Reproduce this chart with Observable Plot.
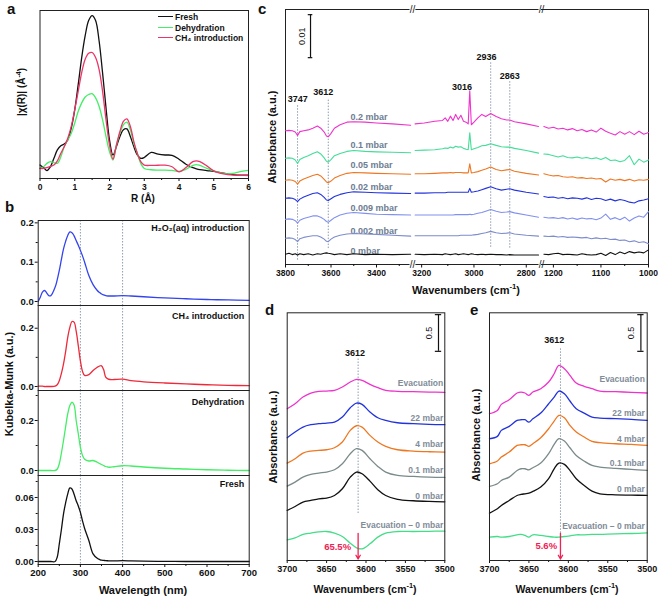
<!DOCTYPE html>
<html><head><meta charset="utf-8">
<script src="https://cdn.jsdelivr.net/npm/d3@7"></script>
<script src="https://cdn.jsdelivr.net/npm/@observablehq/plot@0.6"></script>
<style>
html,body{margin:0;padding:0;background:#fff;}
#fig{position:relative;width:661px;height:599px;overflow:hidden;background:#fff;font-family:"Liberation Sans",Arial,sans-serif;font-weight:bold;color:#111;}
#fig svg{position:absolute;overflow:visible;}
.lab{position:absolute;white-space:nowrap;line-height:1;transform:translate(-50%,-50%);}
.lab.rot{transform:translate(-50%,-50%) rotate(-90deg);}
.letter{position:absolute;line-height:1;font-size:15px;}
.leg{position:absolute;white-space:nowrap;line-height:1;font-size:8.5px;transform:translateY(-50%);}
.legline{position:absolute;height:0;border-top:1.8px solid;}
sup{font-size:70%;vertical-align:super;line-height:0;}
</style></head>
<body><div id="fig"></div>
<script>
// ================= DATA =================
// Panel a: EXAFS |chi(R)|
const aR = [0,0.1,0.2,0.3,0.4,0.5,0.6,0.7,0.8,0.9,1.0,1.1,1.2,1.3,1.4,1.5,1.6,1.7,1.8,1.9,2.0,2.1,2.2,2.3,2.4,2.5,2.6,2.7,2.8,2.9,3.0,3.2,3.4,3.6,3.8,4.0,4.2,4.4,4.5,4.6,4.8,5.0,5.2,5.4,5.6,5.8,6.0];
const aFresh = [0.08,0.065,0.047,0.07,0.12,0.17,0.195,0.205,0.23,0.3,0.41,0.56,0.72,0.85,0.94,0.97,0.94,0.82,0.63,0.42,0.23,0.14,0.19,0.25,0.29,0.295,0.25,0.19,0.14,0.12,0.125,0.155,0.145,0.14,0.138,0.115,0.085,0.065,0.058,0.053,0.047,0.042,0.035,0.027,0.022,0.02,0.02];
const aDehyd = [0.06,0.07,0.09,0.1,0.095,0.09,0.13,0.19,0.23,0.27,0.33,0.4,0.45,0.485,0.5,0.505,0.48,0.43,0.35,0.25,0.16,0.11,0.2,0.27,0.32,0.335,0.29,0.21,0.15,0.09,0.06,0.052,0.05,0.05,0.048,0.042,0.055,0.078,0.083,0.078,0.06,0.045,0.033,0.028,0.032,0.042,0.048];
const aCH4 = [0.06,0.06,0.065,0.072,0.08,0.105,0.15,0.19,0.24,0.31,0.41,0.52,0.63,0.71,0.745,0.75,0.72,0.65,0.52,0.35,0.2,0.115,0.2,0.28,0.34,0.355,0.31,0.22,0.15,0.1,0.08,0.078,0.079,0.079,0.07,0.04,0.065,0.1,0.105,0.1,0.075,0.045,0.03,0.023,0.02,0.019,0.018];
const aNames = ["Fresh","Dehydration","CH₄ introduction"];
const aColors = ["#111111","#44ee66","#ee3366"];
const aXTicks = [0,1,2,3,4,5,6];
const aXMinor = [0.5,1.5,2.5,3.5,4.5,5.5];

// Panel b: UV-vis Kubelka-Munk
const bWL = [200,205,210,215,220,225,230,240,245,250,255,260,265,270,275,280,285,290,295,300,305,310,320,330,340,345,350,355,360,365,370,380,400,420,450,500,550,600,650,700];
const bH2O2 = [0,0.011,0.024,0.028,0.022,0.015,0.015,0.036,0.055,0.079,0.107,0.134,0.153,0.168,0.177,0.175,0.167,0.155,0.143,0.13,0.116,0.1,0.066,0.043,0.028,0.023,0.019,0.017,0.015,0.014,0.014,0.014,0.015,0.014,0.012,0.009,0.007,0.005,0.004,0.003];
const bCH4 = [0.001,0.001,0.001,0,0,0,0,0.001,0.006,0.02,0.045,0.078,0.12,0.169,0.203,0.223,0.221,0.19,0.14,0.088,0.052,0.038,0.041,0.055,0.066,0.07,0.071,0.058,0.032,0.026,0.024,0.024,0.025,0.02,0.016,0.012,0.009,0.006,0.004,0.003];
const bDehyd = [0,0,0,0,0,0,0,0,0.005,0.027,0.07,0.12,0.175,0.227,0.26,0.273,0.262,0.2,0.147,0.093,0.06,0.045,0.038,0.04,0.033,0.028,0.024,0.02,0.016,0.014,0.013,0.015,0.019,0.018,0.014,0.009,0.006,0.003,0.001,0];
const bFresh = [0,0,0,0,0,0,0,0,0.004,0.0166,0.03,0.0447,0.055,0.0634,0.069,0.068,0.063,0.057,0.052,0.046,0.038,0.031,0.0197,0.0072,0.003,0.002,0.0012,0.001,0.0008,0.0007,0.0006,0.0006,0.0008,0.0006,0.0003,0.0001,0,0,0,0];
const bLabels = ["H₂O₂(aq) introduction","CH₄ introduction","Dehydration","Fresh"];
const bColors = ["#3344ee","#ee2a3a","#44ee66","#111111"];
const bYTicks = [[0,0.1,0.2],[0,0.2],[0,0.2],[0,0.03,0.06]];
const bYMinor = [[0.05,0.15],[0.1],[0.1,0.3],[0.015,0.045,0.075]];
const bYFmt = [".1f",".1f",".1f",".2f"];
const bGuides = [300,400];
const bXTicks = [200,300,400,500,600,700];
const bXMinor = [250,350,450,550,650];

// Panel c: IR difference spectra (mAbs), broken axis
const cNames = ["0 mbar","0.002 mbar","0.009 mbar","0.02 mbar","0.05 mbar","0.1 mbar","0.2 mbar"];
const cColors = ["#111111","#7d8ccc","#8090ee","#2233dd","#ee7722","#44dd99","#ee33cc"];
const cOffsets = [2.4,6.1,10.5,15.4,19.6,24.7,31.1];
const cGrid1 = [3800,3785,3770,3757,3747,3737,3720,3700,3680,3660,3645,3630,3620,3612,3600,3585,3560,3530,3500,3450,3400,3330,3250];
const cGrid2 = [3225,3190,3150,3120,3110,3100,3090,3080,3070,3060,3050,3040,3030,3022,3016,3010,3000,2985,2970,2955,2936,2915,2895,2875,2863,2845,2800,2753];
const cGrid3 = [1220,1210,1200,1190,1180,1170,1160,1150,1140,1130,1120,1110,1100,1090,1080,1070,1060,1050,1040,1030,1020,1010,1000];
const cDev1 = [
  [0,0.2,-0.1,0.1,-0.2,0.1,-0.1,0.1,-0.2,0.1,0,0.2,0.3,0.2,0.1,-0.1,0.1,-0.1,0.1,-0.1,0,-0.1,0],
  [0,0.1,0,-0.3,-0.8,-0.1,0.2,0.4,0.6,0.6,0.3,-0.2,-0.7,-0.8,-0.2,0.3,0.7,1.0,1.1,1.0,0.9,0.7,0.5],
  [0,0.1,0,-0.3,-0.9,-0.2,0.2,0.5,0.8,0.8,0.5,0,-0.5,-0.7,-0.2,0.4,1.0,1.4,1.6,1.4,1.2,1.1,1.0],
  [0,0.1,0,-0.3,-0.8,-0.2,0.3,0.7,1.1,1.3,0.9,0.2,-0.4,-0.5,-0.1,0.4,0.9,1.3,1.5,1.4,1.3,1.2,1.1],
  [0,0.1,0,-0.3,-0.9,-0.2,0.3,0.7,1.1,1.4,1.0,0.2,-0.4,-0.6,-0.2,0.5,1.1,1.6,1.8,1.7,1.6,1.5,1.4],
  [0,0.1,0,-0.4,-1.2,-0.3,0.2,0.6,1.1,1.5,1.0,0.1,-0.7,-0.9,-0.3,0.6,1.1,1.6,1.8,1.6,1.5,1.4,1.3],
  [0,0.1,0,-0.3,-1.1,-0.2,0,0.2,0.6,1.1,0.6,-0.3,-1.2,-1.4,-0.6,0.6,1.4,2.0,2.1,2.0,1.8,1.6,1.3]
];
const cDev2 = [
  [0,-0.1,0,-0.1,0.1,0,-0.1,0,0.1,-0.1,0,0.1,0,-0.1,0,0.1,0,-0.1,0,-0.1,0,-0.1,-0.1,-0.2,-0.1,-0.2,-0.2,-0.2],
  [0.6,0.6,0.6,0.6,0.6,0.6,0.6,0.6,0.6,0.6,0.7,0.7,0.7,0.7,0.7,0.7,0.8,0.9,1.1,1.3,1.6,1.3,1.1,1.2,1.3,1.0,0.7,0.5],
  [1.0,1.0,1.0,1.0,1.0,1.0,1.0,1.0,1.1,1.1,1.1,1.1,1.1,1.1,1.2,1.1,1.2,1.4,1.6,1.9,2.3,1.9,1.6,1.7,1.8,1.5,1.0,0.5],
  [1.2,1.2,1.3,1.3,1.3,1.4,1.4,1.4,1.4,1.4,1.4,1.4,1.4,1.4,2.3,1.4,1.5,1.7,2.0,2.3,2.7,2.2,1.9,2.1,2.2,1.9,1.4,1.0],
  [1.5,1.5,1.6,1.7,1.7,1.7,1.8,1.7,1.8,1.8,1.8,1.7,1.7,1.7,3.8,1.7,1.8,2.0,2.3,2.6,3.1,2.5,2.2,2.4,2.5,2.1,1.6,1.2],
  [1.8,1.9,2.0,2.2,2.4,2.3,2.6,2.4,2.8,2.6,2.7,2.3,2.1,2.0,5.9,2.0,2.2,2.5,2.9,3.0,3.4,3.0,2.7,2.6,2.6,2.3,1.8,1.2],
  [1.6,1.8,2.2,2.4,3.0,2.2,3.4,2.4,3.8,2.6,3.6,2.2,2.0,1.6,9.3,1.4,2.0,3.0,3.8,3.3,4.0,3.3,2.8,2.5,2.5,2.1,1.6,1.0]
];
const cDev3 = [
  [0,-0.1,0.1,0.2,-0.1,0,-0.1,-0.2,0.1,-0.1,-0.2,-0.1,0.2,-0.3,0.4,-0.1,0.5,0.1,0.6,0.3,0.5,0.3,1.0],
  [0.5,0.4,0.5,0.3,0.4,0.2,0.3,0.2,0.1,0.2,-0.1,0.1,-0.1,0,-0.3,-0.2,-0.5,-0.4,-0.8,-0.6,-1.0,-0.8,-1.3],
  [0.5,0.3,0.4,0.2,0.4,0.1,0.3,0,0.3,0.1,0.2,-0.1,0.3,1.2,0,0.4,-0.1,0.5,-0.4,0.3,0.8,0.5,1.8],
  [0.4,0.2,0.3,0,0.2,-0.1,0.1,0,-0.2,0.1,-0.3,0,-0.1,-0.5,-0.2,-0.6,-0.3,-0.5,-0.9,-1.1,-0.6,-0.4,-0.1],
  [1.5,1.2,1.0,1.1,0.8,0.7,0.8,0.5,0.6,0.4,0.5,0.3,0.4,-0.4,0.3,0,0.2,-0.1,0.2,-0.2,0.1,0,0.2],
  [1.0,0.9,0.6,0.3,0.6,0.2,0.1,0.3,0,0.2,-0.1,0.1,-0.3,0.2,-0.5,-0.4,-0.8,-0.5,0.6,-1.5,-0.2,-0.9,-0.4],
  [1.0,0.6,0.8,0.4,0.6,0.2,0.5,0,0.3,-0.2,0.2,-0.3,0.6,-0.1,-0.6,-1.0,-0.2,-0.8,-0.2,-0.9,-0.1,-0.8,-0.4]
];
const cPeakLabels = ["3747","3612","3016","2936","2863"];

// Panels d, e: OH band region
const deNames = ["0 mbar","0.1 mbar","4 mbar","22 mbar","Evacuation","Evacuation – 0 mbar"];
const deColors = ["#111111","#7a8a8a","#ee7722","#2233dd","#ee33cc","#44dd88"];
const dWN = [3700,3690,3680,3670,3660,3650,3640,3630,3620,3612,3605,3595,3585,3575,3560,3540,3520,3500];
const d0 = [0.682,0.736,0.795,0.818,0.841,0.85,0.886,0.977,1.136,1.205,1.182,1.082,0.964,0.886,0.832,0.814,0.805,0.8];
const d01 = [1.014,1.068,1.136,1.173,1.191,1.205,1.236,1.318,1.455,1.523,1.5,1.386,1.282,1.205,1.159,1.145,1.136,1.132];
const d4 = [1.327,1.386,1.464,1.491,1.5,1.509,1.536,1.614,1.773,1.836,1.818,1.705,1.614,1.555,1.509,1.491,1.482,1.477];
const d22 = [1.673,1.75,1.818,1.85,1.864,1.873,1.886,1.955,2.082,2.145,2.127,2.023,1.945,1.909,1.877,1.864,1.855,1.85];
const dEvac = [2.068,2.136,2.227,2.282,2.305,2.309,2.318,2.364,2.432,2.468,2.455,2.4,2.355,2.318,2.305,2.3,2.295,2.29];
const dDiff = [0.282,0.309,0.355,0.373,0.39,0.395,0.373,0.327,0.236,0.173,0.159,0.227,0.318,0.373,0.395,0.395,0.398,0.4];
const eWN = [3700,3690,3685,3675,3665,3660,3655,3650,3645,3635,3625,3618,3612,3605,3598,3590,3580,3570,3560,3540,3520,3500];
const e0 = [0.645,0.705,0.75,0.818,0.886,0.9,0.909,0.918,0.941,1.0,1.114,1.25,1.327,1.309,1.227,1.114,1.023,0.945,0.909,0.895,0.891,0.886];
const e01 = [1.009,1.045,1.091,1.136,1.227,1.25,1.25,1.236,1.264,1.327,1.455,1.582,1.659,1.627,1.536,1.432,1.355,1.295,1.273,1.255,1.241,1.227];
const e4 = [1.318,1.355,1.409,1.477,1.568,1.577,1.577,1.555,1.591,1.673,1.795,1.9,1.977,1.945,1.841,1.75,1.682,1.623,1.605,1.591,1.582,1.568];
const e22 = [1.659,1.691,1.773,1.827,1.909,1.918,1.918,1.886,1.932,2.009,2.136,2.227,2.309,2.273,2.173,2.068,2.009,1.955,1.941,1.932,1.923,1.909];
const eEvac = [2.0,2.045,2.127,2.191,2.282,2.295,2.282,2.25,2.295,2.341,2.432,2.545,2.659,2.614,2.523,2.418,2.373,2.341,2.309,2.3,2.291,2.282];
const eDiff = [0.318,0.327,0.318,0.327,0.35,0.355,0.341,0.318,0.35,0.341,0.327,0.318,0.318,0.327,0.336,0.35,0.35,0.355,0.355,0.364,0.368,0.377];
const dePercent = ["65.5%","5.6%"];
const deXTicks = [3700,3650,3600,3550,3500];
const deXMinor = [3675,3625,3575,3525];

// ================= DRAWING =================
const FONT = '"Liberation Sans", Arial, sans-serif';
const fig = document.getElementById("fig");
function place(svg, left, top) { svg.style.left = left + "px"; svg.style.top = top + "px"; fig.appendChild(svg); }
function st(size) { return {fontFamily: FONT, fontWeight: "bold", fontSize: size + "px", background: "transparent", overflow: "visible", color: "#111"}; }
function label(html, cx, cy, size, rot) {
  const d = document.createElement("div");
  d.className = "lab" + (rot ? " rot" : "");
  d.innerHTML = html; d.style.left = cx + "px"; d.style.top = cy + "px"; d.style.fontSize = size + "px";
  fig.appendChild(d);
}
function letter(t, left, top) {
  const d = document.createElement("div");
  d.className = "letter"; d.textContent = t;
  d.style.left = left + "px"; d.style.top = top + "px";
  fig.appendChild(d);
}
const noText = () => "";

// ---- Panel a ----
const aRows = [aFresh, aDehyd, aCH4].flatMap((vals, k) => aR.map((r, i) => ({r, v: vals[i], s: aNames[k]})));
place(Plot.plot({
  width: 250, height: 200, marginLeft: 39.5, marginRight: 2, marginTop: 10, marginBottom: 22,
  style: st(8.5),
  x: {domain: [0, 6]},
  y: {domain: [0, 1], axis: null},
  color: {domain: aNames, range: aColors},
  marks: [
    Plot.axisX({ticks: aXTicks, tickSize: 3, tickPadding: 2, tickFormat: d3.format("d"), label: null}),
    Plot.axisX({ticks: aXMinor, tickSize: 2, tickFormat: noText, label: null}),
    Plot.line(aRows, {x: "r", y: "v", z: "s", stroke: "s", strokeWidth: 1.3, curve: "catmull-rom"}),
    Plot.frame({stroke: "#222"})
  ]
}), 0, 0);
// legend a
aNames.forEach((n, k) => {
  const y = 16.7 + k * 10.8;
  const l = document.createElement("div");
  l.className = "legline"; l.style.left = "158px"; l.style.width = "15px"; l.style.top = (y - 0.9) + "px"; l.style.borderColor = aColors[k];
  fig.appendChild(l);
  const t = document.createElement("div");
  t.className = "leg"; t.style.left = "175px"; t.style.top = y + "px"; t.textContent = n;
  fig.appendChild(t);
});
letter("a", 7, 1);
label("R (Å)", 143, 199, 10);
label("|χ(R)| (Å<sup>-4</sup>)", 22, 92, 10, true);

// ---- Panel b ----
const bSeries = [bH2O2, bCH4, bDehyd, bFresh];
const bFrame = [220, 305, 390, 475, 564];
const bYDomains = [[-0.0102, 0.206], [-0.0137, 0.278], [-0.02, 0.32], [-0.0028, 0.0806]];
const bLabelDy = [4, 7, 8, 5];
bSeries.forEach((vals, k) => {
  const top = bFrame[k], bottom = bFrame[k + 1];
  const last = k === 3;
  const mt = 6, mb = last ? 26 : 2;
  const rows = bWL.map((w, i) => ({w, v: vals[i]}));
  const marks = [
    Plot.ruleX(bGuides, {stroke: "#8d9db0", strokeWidth: 1, strokeDasharray: "1.5,1.5"}),
    Plot.axisY({ticks: bYTicks[k], tickSize: 3, tickPadding: 1.5, tickFormat: d3.format(bYFmt[k]), label: null}),
    Plot.axisY({ticks: bYMinor[k], tickSize: 2, tickFormat: noText, label: null}),
    Plot.line(rows, {x: "w", y: "v", stroke: bColors[k], strokeWidth: 1.3, curve: "catmull-rom"}),
    Plot.text([bLabels[k]], {frameAnchor: "top-right", textAnchor: "end", lineAnchor: "top", dx: -5, dy: bLabelDy[k], fontSize: 9, fontWeight: "bold", fill: "#111"}),
    Plot.frame({stroke: "#222"})
  ];
  if (last) {
    marks.push(Plot.axisX({ticks: bXTicks, tickSize: 3, tickPadding: 2, tickFormat: d3.format("d"), label: null}));
    marks.push(Plot.axisX({ticks: bXMinor, tickSize: 2, tickFormat: noText, label: null}));
  }
  place(Plot.plot({
    width: 250, height: (bottom - top) + mt + mb, marginLeft: 37.7, marginRight: 1.3, marginTop: mt, marginBottom: mb,
    style: st(9.5),
    x: last ? {domain: [200, 700]} : {domain: [200, 700], axis: null},
    y: {domain: bYDomains[k]},
    marks
  }), 0, top - mt);
});
letter("b", 5, 199);
label("Kubelka-Munk (a.u.)", 9, 384, 11, true);
label("Wavelength (nm)", 143, 590, 11);

// ---- Panel c ----
const cYMax = 59.3;
const cSegs = [
  {left: 285, width: 127, domain: [3800, 3241.8], ticks: [3800, 3600, 3400], minor: [3700, 3500, 3300]},
  {left: 412, width: 129, domain: [3235, 2741.7], ticks: [3200, 3000, 2800], minor: [3100, 2900]},
  {left: 541, width: 107, domain: [1225, 1000], ticks: [1200, 1100, 1000], minor: [1150, 1050]}
];
const cGrids = [cGrid1, cGrid2, cGrid3], cDevs = [cDev1, cDev2, cDev3];
const guide = {stroke: "#8d9db0", strokeWidth: 1, strokeDasharray: "1.5,1.5"};
cSegs.forEach((seg, j) => {
  const rows = cNames.flatMap((name, k) => cGrids[j].map((x, i) => ({x, v: cOffsets[k] + cDevs[j][k][i], s: name})));
  const marks = [
    Plot.ruleY([0, cYMax], {stroke: "#222"}),
    Plot.axisX({ticks: seg.ticks, tickSize: 3.5, tickPadding: 2, tickFormat: d3.format("d"), label: null}),
    Plot.axisX({ticks: seg.minor, tickSize: 2, tickFormat: noText, label: null})
  ];
  if (j === 0) {
    marks.push(
      Plot.ruleX([3800], {stroke: "#222"}),
      Plot.ruleX([{x: 3747, y1: 1.0, y2: 37.0}, {x: 3612, y1: 3.7, y2: 38.6}], {x: "x", y1: "y1", y2: "y2", ...guide}),
      Plot.text([{t: cPeakLabels[0], x: 3746, y: 38.4}, {t: cPeakLabels[1], x: 3634, y: 40.1}], {x: "x", y: "y", text: "t", fontSize: 9, fontWeight: "bold", fill: "#111"}),
      Plot.ruleX([3690], {y1: 48.1, y2: 58.1, stroke: "#111", strokeWidth: 1.2}),
      Plot.ruleY([48.1, 58.1], {x1: 3680, x2: 3700, stroke: "#111", strokeWidth: 1.2}),
      Plot.text(["0.01"], {x: 3727, y: 53.1, rotate: -90, fontSize: 9, fontWeight: "normal", fill: "#111"}),
      Plot.text(cNames.map((n, k) => ({n, y: [3.2, 7.7, 13.0, 18.0, 23.1, 27.7, 34.3][k]})), {x: 3514, y: "y", text: "n", textAnchor: "start", fontSize: 9, fontWeight: "bold", fill: "#6d7d92"})
    );
  }
  if (j === 1) {
    marks.push(
      Plot.ruleX([{x: 2936, y1: 4.0, y2: 47.1}, {x: 2863, y1: 3.8, y2: 42.6}], {x: "x", y1: "y1", y2: "y2", ...guide}),
      Plot.text([{t: cPeakLabels[2], x: 3046, y: 41.3}, {t: cPeakLabels[3], x: 2952, y: 48.3}, {t: cPeakLabels[4], x: 2863, y: 43.8}], {x: "x", y: "y", text: "t", fontSize: 9, fontWeight: "bold", fill: "#111"}),
      Plot.text([{x: seg.domain[0], y: cYMax}, {x: seg.domain[1], y: cYMax}, {x: seg.domain[0], y: 0}, {x: seg.domain[1], y: 0}], {x: "x", y: "y", text: () => "//", fontSize: 10, fontWeight: "normal", fill: "#222", stroke: "white", strokeWidth: 2})
    );
  }
  if (j === 2) marks.push(Plot.ruleX([1000], {stroke: "#222"}));
  marks.push(Plot.line(rows, {x: "x", y: "v", z: "s", stroke: "s", strokeWidth: 1.1}));
  place(Plot.plot({
    width: seg.width, height: 300, marginLeft: 0, marginRight: 0, marginTop: 9, marginBottom: 36,
    style: st(8.5),
    x: {domain: seg.domain},
    y: {domain: [0, cYMax], axis: null},
    color: {domain: cNames, range: cColors},
    marks
  }), seg.left, 0);
});
letter("c", 258, 1);
label("Absorbance (a.u.)", 272, 137, 11, true);
label("Wavenumbers (cm<sup>-1</sup>)", 466, 290, 11);

// ---- Panels d, e ----
function dePanel(wn, series, opts) {
  const rows = series.flatMap((vals, k) => wn.map((w, i) => ({w, v: vals[i], s: deNames[k]})));
  return Plot.plot({
    width: opts.width, height: 290, marginLeft: opts.ml, marginRight: opts.mr, marginTop: 12.3, marginBottom: 30,
    style: st(9),
    x: {domain: [3700, 3500]},
    y: {domain: [0, 3.375], axis: null},
    color: {domain: deNames, range: deColors},
    marks: [
      Plot.axisX({ticks: deXTicks, tickSize: 3, tickPadding: 2, tickFormat: d3.format("d"), label: null}),
      Plot.axisX({ticks: deXMinor, tickSize: 2, tickFormat: noText, label: null}),
      Plot.ruleX([3610], {y1: opts.guide[0], y2: opts.guide[1], ...guide}),
      Plot.line(rows, {x: "w", y: "v", z: "s", stroke: "s", strokeWidth: 1.3, curve: "catmull-rom"}),
      Plot.text(["3612"], {x: opts.peakX, y: opts.peakY, fontSize: 9, fontWeight: "bold", fill: "#111"}),
      Plot.text(deNames.map((n, k) => ({n, y: opts.labY[k]})), {x: opts.labX, y: "y", text: "n", textAnchor: "end", fontSize: 8.5, fontWeight: "bold", fill: "#7f8c99"}),
      Plot.arrow([{x: 3610, y1: opts.arrow[0], y2: opts.arrow[1]}], {x1: "x", x2: "x", y1: "y1", y2: "y2", stroke: "#ee2255", strokeWidth: 1.3, headLength: 5}),
      Plot.text([opts.pct], {x: opts.pctX, y: opts.pctY, fontSize: 9.5, fontWeight: "bold", fill: "#ee2255"}),
      Plot.ruleX([opts.barX], {y1: 2.85, y2: 3.35, stroke: "#111", strokeWidth: 1.2}),
      Plot.ruleY([2.85, 3.35], {x1: opts.barX + 4, x2: opts.barX - 4, stroke: "#111", strokeWidth: 1.2}),
      Plot.text(["0.5"], {x: opts.barX + 12, y: 3.1, rotate: -90, fontSize: 9, fontWeight: "normal", fill: "#111"}),
      Plot.frame({stroke: "#222"})
    ]
  });
}
place(dePanel(dWN, [d0, d01, d4, d22, dEvac, dDiff], {
  width: 220, ml: 56.7, mr: 5.7, guide: [0.64, 2.75], peakX: 3614, peakY: 2.83,
  labX: 3502, labY: [0.876, 1.236, 1.58, 1.944, 2.41, 0.477],
  arrow: [0.37, 0.02], pct: dePercent[0], pctX: 3636, pctY: 0.18, barX: 3508
}), 230, 300);
place(dePanel(eWN, [e0, e01, e4, e22, eEvac, eDiff], {
  width: 215, ml: 49, mr: 8.3, guide: [0.37, 2.9], peakX: 3618, peakY: 3.0,
  labX: 3503, labY: [0.977, 1.326, 1.658, 2.007, 2.466, 0.467],
  arrow: [0.37, 0.02], pct: dePercent[1], pctX: 3628, pctY: 0.2, barX: 3508
}), 440, 300);
letter("d", 265, 302);
letter("e", 470, 302);
label("Absorbance (a.u.)", 273, 437, 11, true);
label("Absorbance (a.u.)", 476, 435, 11, true);
label("Wavenumbers (cm<sup>-1</sup>)", 365, 589, 10.5);
label("Wavenumbers (cm<sup>-1</sup>)", 567, 589, 10.5);
</script></body></html>
